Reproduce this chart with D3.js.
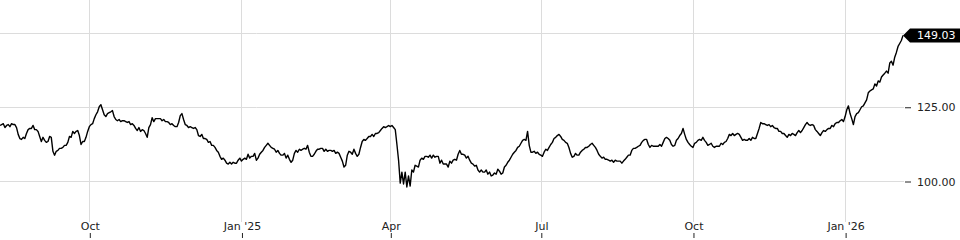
<!DOCTYPE html>
<html>
<head>
<meta charset="utf-8">
<script src="https://cdn.jsdelivr.net/npm/d3@7"></script>
<style>
	body { margin: 0; background: #fff; }
	svg { display: block; font-family: "DejaVu Sans", sans-serif; }
</style>
</head>
<body>
<div id="chart"></div>
<script>
// one close per calendar day, starting at startDate
const startDate = "2024-08-08";
const prices = [
	118.7, 119.0, 119.3, 118.0, 118.7, 119.0, 118.3, 119.3, 119.0, 119.0, 118.0, 115.7,
	114.3, 114.0, 114.7, 114.3, 116.0, 117.3, 117.7, 117.7, 118.7, 117.3, 117.3, 116.7,
	115.0, 113.3, 114.7, 113.7, 113.0, 113.3, 115.0, 114.7, 110.0, 108.7, 110.0, 110.3,
	111.0, 111.0, 111.3, 112.0, 112.0, 113.0, 115.0, 114.7, 116.7, 116.0, 116.7, 117.0,
	115.3, 112.3, 113.3, 113.3, 114.7, 116.7, 118.3, 119.0, 119.3, 121.0, 122.3, 123.3,
	125.0, 125.7, 124.0, 122.3, 121.7, 122.7, 123.0, 123.3, 123.7, 121.7, 120.7, 120.3,
	120.7, 120.0, 120.3, 120.3, 120.0, 119.7, 120.0, 119.0, 119.3, 118.7, 117.7, 117.0,
	118.0, 116.7, 117.3, 117.0, 116.0, 114.7, 118.0, 119.0, 121.3, 120.0, 121.0, 121.0,
	121.0, 121.0, 120.3, 120.7, 120.0, 120.0, 119.7, 119.0, 119.3, 118.7, 118.3, 118.3,
	119.7, 122.0, 122.7, 120.7, 119.0, 118.7, 118.0, 118.3, 118.0, 117.7, 118.0, 117.3,
	115.3, 115.0, 115.7, 114.3, 114.3, 114.0, 113.0, 113.3, 112.0, 112.0, 111.3, 110.3,
	109.7, 108.3, 107.3, 107.7, 107.0, 106.0, 105.7, 106.3, 105.7, 106.3, 106.0, 106.0,
	107.0, 107.7, 106.7, 107.3, 107.7, 107.3, 109.0, 107.7, 108.3, 108.3, 109.3, 107.0,
	107.7, 109.0, 109.7, 110.3, 111.3, 112.0, 112.7, 112.0, 111.3, 111.0, 110.7, 109.7,
	110.3, 109.3, 108.7, 108.7, 109.3, 107.7, 108.7, 107.3, 106.3, 107.0, 109.3, 110.3,
	109.7, 110.7, 110.3, 110.7, 111.0, 110.7, 112.0, 109.7, 108.3, 108.3, 109.0, 110.0,
	110.7, 110.7, 111.0, 111.0, 110.0, 110.7, 110.0, 110.3, 110.3, 110.0, 110.3, 109.3,
	109.7, 109.3, 108.0, 106.7, 104.7, 105.3, 108.7, 110.0, 109.7, 109.0, 110.7, 109.3,
	108.3, 109.0, 111.3, 113.3, 114.0, 113.7, 114.3, 115.0, 115.0, 115.7, 115.0, 116.0,
	116.0, 116.3, 117.0, 117.7, 118.3, 118.0, 118.3, 118.7, 118.3, 118.7, 118.0, 117.3,
	112.3, 107.0, 99.3, 103.0, 99.0, 103.0, 98.0, 101.7, 98.3, 103.7, 103.0, 105.3,
	105.0, 104.7, 107.0, 107.7, 107.3, 108.3, 108.3, 108.0, 108.7, 107.7, 108.7, 108.0,
	108.3, 108.3, 106.0, 107.0, 105.7, 105.7, 105.7, 104.7, 106.7, 106.0, 107.0, 107.3,
	107.0, 109.0, 110.3, 109.0, 109.0, 108.7, 107.7, 108.3, 107.0, 106.0, 105.7, 105.0,
	105.3, 103.7, 103.0, 103.7, 103.0, 103.0, 103.7, 102.3, 103.0, 101.7, 102.0, 102.7,
	102.3, 104.0, 103.3, 102.3, 102.7, 104.7, 105.3, 106.3, 107.0, 108.0, 109.0, 109.7,
	110.3, 111.3, 111.7, 112.7, 113.7, 114.0, 113.7, 116.7, 112.0, 109.7, 109.7, 110.0,
	109.3, 109.7, 109.0, 108.7, 108.3, 109.7, 110.7, 110.3, 111.3, 112.3, 113.0, 114.3,
	114.7, 115.3, 115.7, 115.0, 114.0, 113.7, 113.0, 112.7, 111.3, 109.3, 108.0, 108.3,
	109.3, 108.7, 108.7, 109.7, 110.3, 110.7, 111.3, 111.3, 111.7, 112.3, 112.7, 112.0,
	111.3, 110.3, 109.0, 108.3, 107.7, 108.0, 107.3, 107.3, 107.0, 106.7, 107.0, 106.3,
	107.0, 106.7, 106.7, 106.7, 106.0, 106.7, 107.3, 108.0, 108.7, 108.7, 110.3, 111.0,
	111.0, 111.3, 111.7, 112.0, 113.0, 113.7, 114.0, 114.0, 112.3, 111.3, 112.0, 111.7,
	111.7, 111.7, 111.7, 112.3, 111.7, 113.0, 114.3, 114.7, 114.3, 113.7, 112.3, 111.7,
	112.0, 113.7, 114.3, 115.3, 116.0, 117.7, 115.7, 114.0, 113.0, 112.3, 111.7, 111.3,
	112.7, 113.0, 113.7, 114.0, 113.7, 114.7, 113.7, 113.0, 112.0, 112.3, 112.7, 111.7,
	111.3, 111.7, 111.7, 111.7, 112.7, 112.3, 113.0, 113.3, 114.3, 115.7, 115.3, 116.0,
	115.3, 115.7, 116.0, 115.7, 114.7, 113.7, 114.0, 113.7, 113.7, 114.3, 113.7, 114.7,
	114.3, 114.3, 116.0, 117.7, 119.7, 119.3, 119.3, 119.0, 118.7, 119.0, 118.3, 118.7,
	118.0, 117.7, 117.7, 116.7, 116.7, 116.0, 116.0, 115.3, 114.7, 115.7, 115.3, 116.0,
	115.7, 115.3, 116.3, 117.0, 116.3, 117.0, 118.0, 119.0, 119.7, 119.0, 118.7, 119.0,
	118.7, 117.3, 116.7, 116.0, 115.3, 116.3, 117.0, 116.7, 117.3, 117.7, 117.7, 118.7,
	118.3, 119.3, 119.7, 119.7, 120.3, 120.7, 120.0, 121.7, 124.0, 125.3, 122.7, 121.0,
	119.0, 121.7, 122.7, 123.0, 124.0, 125.0, 125.3, 126.3, 127.3, 129.7, 130.3, 130.7,
	131.0, 132.7, 132.0, 133.7, 133.3, 135.0, 135.7, 136.3, 137.0, 136.3, 139.7, 140.3,
	139.0, 141.7, 143.3, 145.3, 146.3, 147.3, 149.03
];
const gridValues = [100, 125, 150];
const tickMonthStep = 3;

const width = 960, height = 240;
const plot = {right: 903, bottom: 222};

let start = d3.timeParse("%Y-%m-%d")(startDate);
let data = prices.map((p, i) => ({date: d3.timeDay.offset(start, i), price: p}));
let last = data[data.length - 1];

let svg = d3.select("#chart").append("svg")
	.attr("width", width)
	.attr("height", height);

let x = d3.scaleTime()
	.domain(d3.extent(data, d => d.date))
	.range([0, plot.right]);

let y = d3.scaleLinear()
	.domain([100, 150])
	.range([181, 32.5]);

let xTicks = x.ticks(d3.timeMonth.every(tickMonthStep));
let fmtMonth = d3.timeFormat("%b"), fmtYear = d3.timeFormat("%y");
let xFormat = d => d.getMonth() === 0 ? `Jan '${fmtYear(d)}` : fmtMonth(d);

// labels hidden under the last price tag are left out
let yLabelTicks = gridValues.filter(v => Math.abs(y(v) - y(last.price)) > 10);

// grid
svg.append("g")
	.selectAll("line")
	.data(xTicks).enter()
	.append("line")
	.attr("x1", d => Math.round(x(d)) + 0.5)
	.attr("x2", d => Math.round(x(d)) + 0.5)
	.attr("y1", 0)
	.attr("y2", plot.bottom)
	.attr("stroke", "#dcdcdc");

svg.append("g")
	.selectAll("line")
	.data(gridValues).enter()
	.append("line")
	.attr("x1", 0)
	.attr("x2", plot.right + 1)
	.attr("y1", d => Math.round(y(d)) + 0.5)
	.attr("y2", d => Math.round(y(d)) + 0.5)
	.attr("stroke", "#dcdcdc");

// axes
let xAxis = g => g
	.attr("transform", `translate(0.5,${height - 2})`)
	.call(d3.axisTop(x).tickValues(xTicks).tickFormat(xFormat).tickSize(5).tickPadding(3))
	.call(g => g.select(".domain").remove());

let yAxis = g => g
	.attr("transform", `translate(${plot.right + 2},0.5)`)
	.call(d3.axisRight(y).tickValues(yLabelTicks).tickFormat(d3.format(".2f")).tickSize(6).tickPadding(6))
	.call(g => g.select(".domain").remove());

svg.append("g").style("font", "11px 'DejaVu Sans'").call(xAxis);
svg.append("g").style("font", "11px 'DejaVu Sans'").call(yAxis);
svg.selectAll(".tick text").attr("fill", "#222");
svg.selectAll(".tick line").attr("stroke", "#222");

// price line
let line = d3.line()
	.x(d => x(d.date))
	.y(d => y(d.price));

svg.append("path")
	.datum(data)
	.attr("fill", "none")
	.attr("stroke", "#000")
	.attr("stroke-width", 1.4)
	.attr("stroke-linejoin", "round")
	.attr("d", line);

// last price tag
let tag = svg.append("g")
	.attr("transform", `translate(${x(last.date)},${y(last.price)})`);

tag.append("path")
	.attr("d", "M0,0L7,-7H60V7H7Z")
	.attr("fill", "#000");

tag.append("text")
	.attr("x", 14)
	.attr("dy", "0.35em")
	.attr("fill", "#fff")
	.style("font", "11px 'DejaVu Sans'")
	.text(d3.format(".2f")(last.price));
</script>
</body>
</html>
